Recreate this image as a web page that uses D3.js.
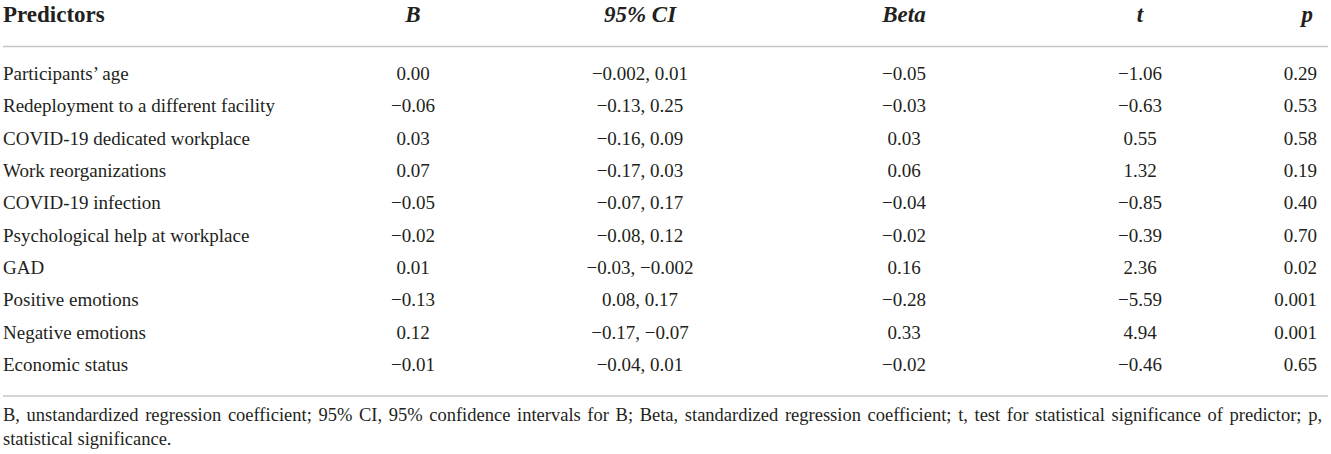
<!DOCTYPE html>
<html>
<head>
<meta charset="utf-8">
<script src="https://cdn.jsdelivr.net/npm/d3@7"></script>
<style>
  html, body { margin: 0; padding: 0; background: #fff; }
  svg { display: block; }
</style>
</head>
<body>
<svg id="table" width="1331" height="454"></svg>
<script>
const predictors = [
  "Participants\u2019 age",
  "Redeployment to a different facility",
  "COVID-19 dedicated workplace",
  "Work reorganizations",
  "COVID-19 infection",
  "Psychological help at workplace",
  "GAD",
  "Positive emotions",
  "Negative emotions",
  "Economic status"
];
const bValues = ["0.00", "\u22120.06", "0.03", "0.07", "\u22120.05", "\u22120.02", "0.01", "\u22120.13", "0.12", "\u22120.01"];
const ciValues = ["\u22120.002, 0.01", "\u22120.13, 0.25", "\u22120.16, 0.09", "\u22120.17, 0.03", "\u22120.07, 0.17",
  "\u22120.08, 0.12", "\u22120.03, \u22120.002", "0.08, 0.17", "\u22120.17, \u22120.07", "\u22120.04, 0.01"];
const betaValues = ["\u22120.05", "\u22120.03", "0.03", "0.06", "\u22120.04", "\u22120.02", "0.16", "\u22120.28", "0.33", "\u22120.02"];
const tValues = ["\u22121.06", "\u22120.63", "0.55", "1.32", "\u22120.85", "\u22120.39", "2.36", "\u22125.59", "4.94", "\u22120.46"];
const pValues = ["0.29", "0.53", "0.58", "0.19", "0.40", "0.70", "0.02", "0.001", "0.001", "0.65"];
const headers = ["Predictors", "B", "95% CI", "Beta", "t", "p"];
const footnote = [
  "B, unstandardized regression coefficient; 95% CI, 95% confidence intervals for B; Beta, standardized regression coefficient; t, test for statistical significance of predictor; p,",
  "statistical significance."
];

const svg = d3.select("#table");
const width = +svg.attr("width");
const font = "'Liberation Serif', 'Times New Roman', serif";
const ink = "#231f20";

const columns = [predictors, bValues, ciValues, betaValues, tValues, pValues];

// x position and anchor for each column
const colX = d3.scaleOrdinal().domain(d3.range(6)).range([3, 413, 640, 904, 1140, 1317]);
const colAnchor = d3.scaleOrdinal().domain(d3.range(6)).range(["start", "middle", "middle", "middle", "middle", "end"]);

const rowY = d3.scaleLinear().domain([0, predictors.length - 1]).range([80, 371]);

// header
svg.append("g")
  .selectAll("text")
  .data(headers)
  .enter()
  .append("text")
  .attr("x", (d, i) => i === 5 ? colX(i) - 4 : colX(i))
  .attr("y", 22)
  .attr("text-anchor", (d, i) => colAnchor(i))
  .attr("font-family", font)
  .attr("font-size", "23px")
  .attr("font-weight", "bold")
  .attr("font-style", (d, i) => i === 0 ? "normal" : "italic")
  .attr("fill", ink)
  .text(d => d);

// rules
svg.append("g")
  .selectAll("line")
  .data([46.5, 396])
  .enter()
  .append("line")
  .attr("x1", 3)
  .attr("x2", width - 3)
  .attr("y1", d => d)
  .attr("y2", d => d)
  .attr("stroke", "#c6c6c6")
  .attr("stroke-width", 1.6);

// body cells
columns.forEach((values, c) => {
  svg.append("g")
    .selectAll("text")
    .data(values)
    .enter()
    .append("text")
    .attr("x", colX(c))
    .attr("y", (d, i) => rowY(i))
    .attr("text-anchor", colAnchor(c))
    .attr("font-family", font)
    .attr("font-size", "19px")
    .attr("fill", ink)
    .text(d => d);
});

// footnote, first line justified word by word
const noteLeft = 3;
const noteRight = 1322;
const noteG = svg.append("g");

footnote.forEach((line, li) => {
  const y = 421 + li * 24;
  if (li === footnote.length - 1) {
    noteG.append("text")
      .attr("x", noteLeft)
      .attr("y", y)
      .attr("font-family", font)
      .attr("font-size", "18.5px")
      .attr("fill", ink)
      .text(line);
    return;
  }
  const words = line.split(" ");
  const nodes = words.map(w => noteG.append("text")
    .attr("y", y)
    .attr("font-family", font)
    .attr("font-size", "18.5px")
    .attr("fill", ink)
    .text(w));
  const widths = nodes.map(n => n.node().getComputedTextLength());
  const gap = (noteRight - noteLeft - d3.sum(widths)) / (words.length - 1);
  let x = noteLeft;
  nodes.forEach((n, i) => {
    n.attr("x", x);
    x += widths[i] + gap;
  });
});
</script>
</body>
</html>
